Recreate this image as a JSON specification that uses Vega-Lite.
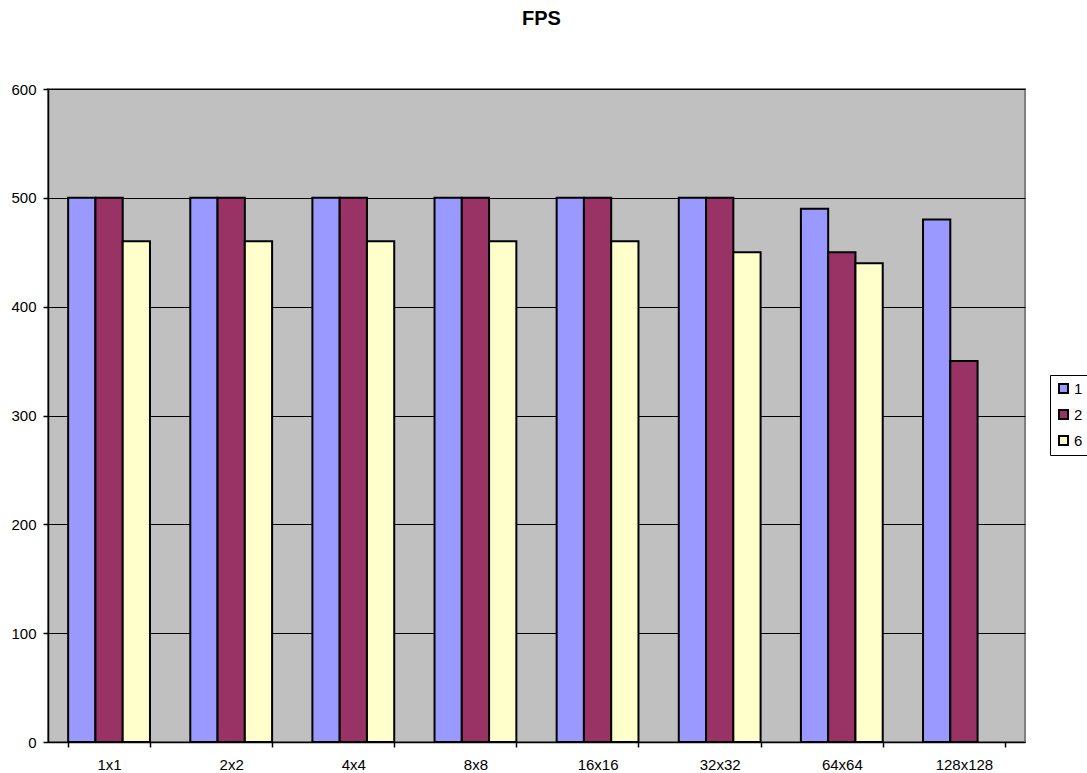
{
  "$schema": "https://vega.github.io/schema/vega-lite/v6.json",
  "width": 977,
  "height": 653,
  "autosize": {"type": "none"},
  "padding": {"left": 48, "top": 89, "right": 62, "bottom": 31},
  "background": "white",
  "title": {"text": "FPS", "font": "Liberation Sans", "fontSize": 20, "fontWeight": "bold", "anchor": "middle", "offset": 53, "dx": 5, "color": "black"},
  "config": {
    "view": {"fill": "#C0C0C0", "stroke": "#808080", "strokeWidth": 2},
    "font": "Liberation Sans"
  },
  "data": {
    "values": [
      {"size": "1x1", "series": "1", "fps": 500},
      {"size": "1x1", "series": "2", "fps": 500},
      {"size": "1x1", "series": "6", "fps": 460},
      {"size": "2x2", "series": "1", "fps": 500},
      {"size": "2x2", "series": "2", "fps": 500},
      {"size": "2x2", "series": "6", "fps": 460},
      {"size": "4x4", "series": "1", "fps": 500},
      {"size": "4x4", "series": "2", "fps": 500},
      {"size": "4x4", "series": "6", "fps": 460},
      {"size": "8x8", "series": "1", "fps": 500},
      {"size": "8x8", "series": "2", "fps": 500},
      {"size": "8x8", "series": "6", "fps": 460},
      {"size": "16x16", "series": "1", "fps": 500},
      {"size": "16x16", "series": "2", "fps": 500},
      {"size": "16x16", "series": "6", "fps": 460},
      {"size": "32x32", "series": "1", "fps": 500},
      {"size": "32x32", "series": "2", "fps": 500},
      {"size": "32x32", "series": "6", "fps": 450},
      {"size": "64x64", "series": "1", "fps": 490},
      {"size": "64x64", "series": "2", "fps": 450},
      {"size": "64x64", "series": "6", "fps": 440},
      {"size": "128x128", "series": "1", "fps": 480},
      {"size": "128x128", "series": "2", "fps": 350}
    ]
  },
  "mark": {"type": "bar", "stroke": "black", "strokeWidth": 2},
  "encoding": {
    "x": {
      "field": "size", "type": "nominal",
      "sort": ["1x1", "2x2", "4x4", "8x8", "16x16", "32x32", "64x64", "128x128"],
      "scale": {"paddingInner": 0.33, "paddingOuter": 0.165},
      "axis": {"title": null, "labelAngle": 0, "labelFontSize": 15, "labelColor": "black", "labelPadding": 10,
               "domainColor": "black", "domainWidth": 1.5, "tickColor": "black", "tickBand": "extent", "tickSize": 5, "tickWidth": 1.5, "grid": false}
    },
    "xOffset": {"field": "series", "type": "nominal", "sort": ["1", "2", "6"]},
    "y": {
      "field": "fps", "type": "quantitative",
      "scale": {"domain": [0, 600], "nice": false},
      "axis": {"title": null, "values": [0, 100, 200, 300, 400, 500, 600], "labelFontSize": 15, "labelColor": "black", "labelPadding": 7,
               "domainColor": "black", "domainWidth": 1.5, "tickColor": "black", "tickSize": 5, "tickWidth": 1.5, "gridColor": "black", "gridWidth": 1, "gridOpacity": 1}
    },
    "color": {
      "field": "series", "type": "nominal",
      "scale": {"domain": ["1", "2", "6"], "range": ["#9999FF", "#993366", "#FFFFCC"]},
      "legend": {"title": null, "orient": "none", "legendX": 1002, "legendY": 286, "symbolType": "square", "symbolSize": 81,
                 "symbolStrokeColor": "black", "symbolStrokeWidth": 2, "labelFontSize": 15, "labelColor": "black",
                 "strokeColor": "black", "fillColor": "white", "padding": 6, "rowPadding": 9, "labelOffset": 3}
    }
  }
}
